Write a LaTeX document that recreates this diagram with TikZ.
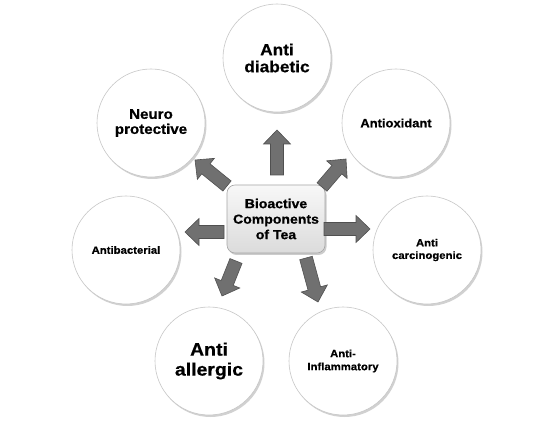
\documentclass[tikz,border=0pt]{standalone}
\usepackage{fontspec}
\setmainfont{Liberation Sans}[FakeStretch=1.08, BoldFeatures={FakeBold=0.6}]
\usetikzlibrary{calc,shadows}
\pgfdeclareradialshading{softball}{\pgfpoint{0bp}{0bp}}{color(0bp)=(white); color(30bp)=(white); color(43bp)=(black!6); color(49bp)=(black!15); color(50bp)=(black!28)}
\definecolor{arrowfill}{RGB}{112,112,112}
\definecolor{arrowline}{RGB}{80,80,80}
\tikzset{
  bubble/.style={circle, minimum size=108pt, inner sep=0pt, shading=softball, draw=black!22, line width=0.6pt,
    drop shadow={shadow xshift=1.5pt, shadow yshift=-2pt, opacity=0.18, fill=black},
    align=center, font=\bfseries},
  centerbox/.style={rectangle, rounded corners=8pt, minimum width=98pt, minimum height=68pt, inner sep=2pt,
    top color=black!3, bottom color=black!14, draw=black!35, line width=0.6pt,
    drop shadow={shadow xshift=1.5pt, shadow yshift=-2pt, opacity=0.2, fill=black},
    align=center, font=\bfseries\fontsize{13}{15.5}\selectfont},
  blockarrow/.style={fill=arrowfill, draw=arrowline, line width=0.6pt, line join=miter}
}
\newcommand\fatarrow[2]{%
  \coordinate (fa-a) at #1;
  \coordinate (fa-b) at #2;
  \coordinate (fa-c) at ($(fa-b)!14pt!(fa-a)$);
  \filldraw[blockarrow] ($(fa-a)!6.5pt!90:(fa-b)$) -- ($(fa-c)!6.5pt!90:(fa-b)$) -- ($(fa-c)!13.5pt!90:(fa-b)$) -- (fa-b)
    -- ($(fa-c)!13.5pt!-90:(fa-b)$) -- ($(fa-c)!6.5pt!-90:(fa-b)$) -- ($(fa-a)!6.5pt!-90:(fa-b)$) -- cycle;}
\begin{document}
\begin{tikzpicture}[x=1pt,y=1pt]
\fill[white] (0,0) rectangle (553,420);
\useasboundingbox (0,0) rectangle (553,420);

\node[bubble, font=\bfseries\fontsize{16}{17}\selectfont] (diab) at (277,362) {Anti\\diabetic};
\node[bubble, font=\bfseries\fontsize{14}{15}\selectfont] (neuro) at (151,297) {Neuro\\protective};
\node[bubble, font=\bfseries\fontsize{12}{14}\selectfont] (oxid) at (396,297) {Antioxidant};
\node[bubble, font=\bfseries\fontsize{10.5}{12.5}\selectfont] (bact) at (126,170) {Antibacterial};
\node[bubble, font=\bfseries\fontsize{10.5}{12.5}\selectfont] (carc) at (427,170) {Anti\\carcinogenic};
\node[bubble, font=\bfseries\fontsize{18}{20}\selectfont] (allerg) at (209,59) {Anti\\allergic};
\node[bubble, font=\bfseries\fontsize{10.5}{13}\selectfont] (inflam) at (343,59) {Anti-\\Inflammatory};

\node[centerbox] (tea) at (276,201) {Bioactive\\Components\\of Tea};

\fatarrow{($(tea)+(1,44)$)}{($(tea)+(1,89)$)}
\fatarrow{($(tea)+(-49,33)$)}{($(tea)+(-81,59)$)}
\fatarrow{($(tea)+(46,32)$)}{($(tea)+(70,60)$)}
\fatarrow{($(tea)+(48,-10)$)}{($(tea)+(94,-10)$)}
\fatarrow{($(tea)+(-52,-13)$)}{($(tea)+(-91,-13)$)}
\fatarrow{($(tea)+(-40,-42)$)}{($(tea)+(-54,-77)$)}
\fatarrow{($(tea)+(30,-39)$)}{($(tea)+(42,-83)$)}
\end{tikzpicture}
\end{document}
